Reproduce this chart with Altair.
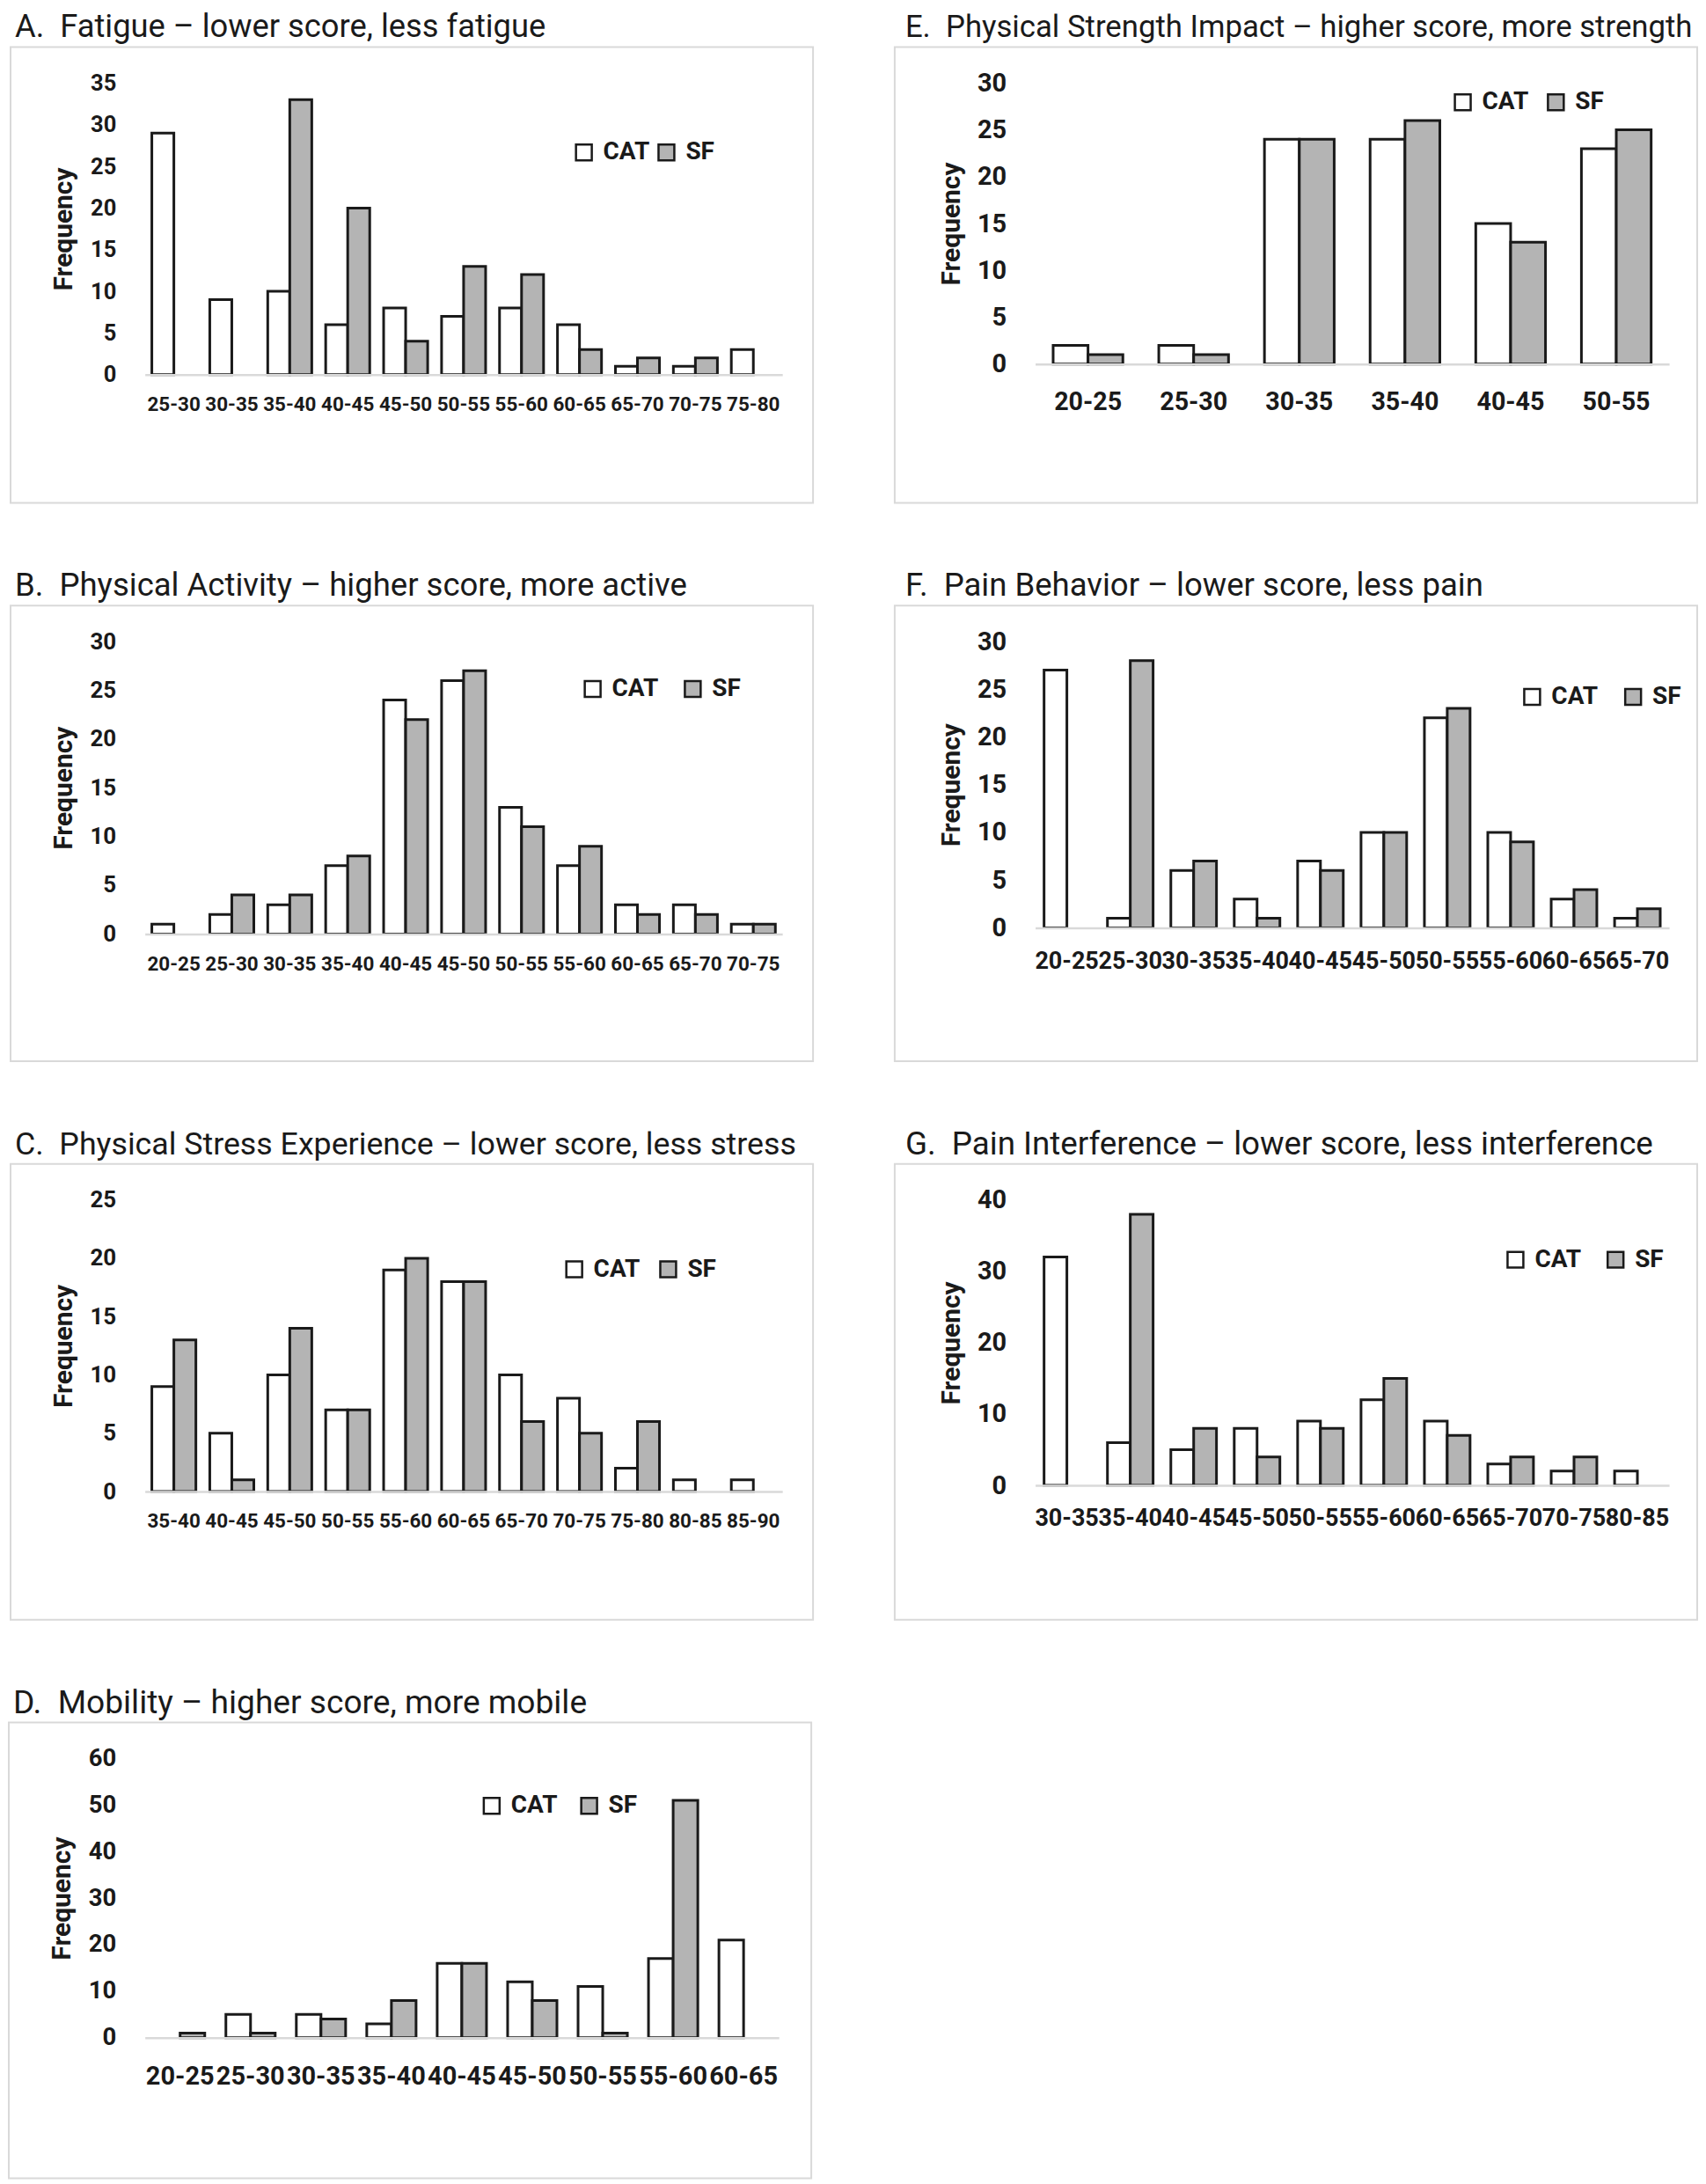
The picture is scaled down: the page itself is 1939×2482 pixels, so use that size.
import altair as alt
import pandas as pd

# ---------------- data ----------------
SERIES = ["CAT", "SF"]

A_bins = ["25-30", "30-35", "35-40", "40-45", "45-50", "50-55", "55-60", "60-65", "65-70", "70-75", "75-80"]
A_cat = [29, 9, 10, 6, 8, 7, 8, 6, 1, 1, 3]
A_sf = [0, 0, 33, 20, 4, 13, 12, 3, 2, 2, 0]

E_bins = ["20-25", "25-30", "30-35", "35-40", "40-45", "50-55"]
E_cat = [2, 2, 24, 24, 15, 23]
E_sf = [1, 1, 24, 26, 13, 25]

B_bins = ["20-25", "25-30", "30-35", "35-40", "40-45", "45-50", "50-55", "55-60", "60-65", "65-70", "70-75"]
B_cat = [1, 2, 3, 7, 24, 26, 13, 7, 3, 3, 1]
B_sf = [0, 4, 4, 8, 22, 27, 11, 9, 2, 2, 1]

F_bins = ["20-25", "25-30", "30-35", "35-40", "40-45", "45-50", "50-55", "55-60", "60-65", "65-70"]
F_cat = [27, 1, 6, 3, 7, 10, 22, 10, 3, 1]
F_sf = [0, 28, 7, 1, 6, 10, 23, 9, 4, 2]

C_bins = ["35-40", "40-45", "45-50", "50-55", "55-60", "60-65", "65-70", "70-75", "75-80", "80-85", "85-90"]
C_cat = [9, 5, 10, 7, 19, 18, 10, 8, 2, 1, 1]
C_sf = [13, 1, 14, 7, 20, 18, 6, 5, 6, 0, 0]

G_bins = ["30-35", "35-40", "40-45", "45-50", "50-55", "55-60", "60-65", "65-70", "70-75", "80-85"]
G_cat = [32, 6, 5, 8, 9, 12, 9, 3, 2, 2]
G_sf = [0, 38, 8, 4, 8, 15, 7, 4, 4, 0]

D_bins = ["20-25", "25-30", "30-35", "35-40", "40-45", "45-50", "50-55", "55-60", "60-65"]
D_cat = [0, 5, 5, 3, 16, 12, 11, 17, 21]
D_sf = [1, 1, 4, 8, 16, 8, 1, 51, 0]

TITLES = {
    "A": "A.\u00a0\u00a0Fatigue \u2013 lower score, less fatigue",
    "E": "E.\u00a0\u00a0Physical Strength Impact \u2013 higher score, more strength",
    "B": "B.\u00a0\u00a0Physical Activity \u2013 higher score, more active",
    "F": "F.\u00a0\u00a0Pain Behavior \u2013 lower score, less pain",
    "C": "C.\u00a0\u00a0Physical Stress Experience \u2013 lower score, less stress",
    "G": "G.\u00a0\u00a0Pain Interference \u2013 lower score, less interference",
    "D": "D.\u00a0\u00a0Mobility \u2013 higher score, more mobile",
}
Y_MAX = {"A": 35, "E": 30, "B": 30, "F": 30, "C": 25, "G": 40, "D": 60}
Y_STEP = {"A": 5, "E": 5, "B": 5, "F": 5, "C": 5, "G": 10, "D": 10}

DATA = {
    "A": (A_bins, A_cat, A_sf),
    "E": (E_bins, E_cat, E_sf),
    "B": (B_bins, B_cat, B_sf),
    "F": (F_bins, F_cat, F_sf),
    "C": (C_bins, C_cat, C_sf),
    "G": (G_bins, G_cat, G_sf),
    "D": (D_bins, D_cat, D_sf),
}

# ---------------- styling / layout ----------------
INK = "#1a1a1a"
SF_FILL = "#b4b4b4"
BOX = "#d9d9d9"
FONT = "Roboto"

PAGE = 8            # body margin of the page
COL_PITCH = 1005
ROW_PITCH = 634
BOX_W, BOX_H = 914, 519
TITLE_AREA = 42     # cell top -> box top
CELL_W = BOX_W + 2
CELL_H = TITLE_AREA + BOX_H + 1
PLOT_TOP_IN_BOX = 41

# per panel: row/col, plot left on the page, plot size, band padding,
# font sizes, x-label offset, legend (page x of first swatch, centre y in plot), gap
LAYOUT = {
    "A": dict(r=0, c=0, pl=162, pw=726, ph=332, pad=0.24, xfs=22.5, yfs=25.5, xlp=34, lxp=648, lcy=79, cp=5, tx=-92, tfs=36.4),
    "E": dict(r=0, c=1, pl=1174, pw=722, ph=320, pad=0.34, xfs=28.7, yfs=29, xlp=43, lxp=1647, lcy=22, cp=17, tx=-95, tfs=34.8),
    "B": dict(r=1, c=0, pl=162, pw=726, ph=333, pad=0.24, xfs=22.5, yfs=26, xlp=34, lxp=658, lcy=54, cp=25, tx=-92, tfs=36.6),
    "F": dict(r=1, c=1, pl=1174, pw=722, ph=326, pad=0.28, xfs=27, yfs=29, xlp=38, lxp=1726, lcy=63, cp=26, tx=-95, tfs=36.6),
    "C": dict(r=2, c=0, pl=162, pw=726, ph=332, pad=0.24, xfs=22.5, yfs=26, xlp=34, lxp=637, lcy=79, cp=18, tx=-92, tfs=35.8),
    "G": dict(r=2, c=1, pl=1174, pw=722, ph=325, pad=0.28, xfs=27, yfs=29, xlp=38, lxp=1707, lcy=68, cp=25, tx=-95, tfs=36.8),
    "D": dict(r=3, c=0, pl=164, pw=722, ph=318, pad=0.30, xfs=29, yfs=27.5, xlp=44, lxp=545, lcy=54, cp=22, tx=-94, tfs=37.2),
}
TITLE_INDENT = {0: 5, 1: 12}
LEG_FS = 28


def make_panel(key):
    bins, cat, sf = DATA[key]
    L = LAYOUT[key]
    rows = []
    for b, c, s in zip(bins, cat, sf):
        if c > 0:
            rows.append({"bin": b, "series": "CAT", "n": c})
        if s > 0:
            rows.append({"bin": b, "series": "SF", "n": s})
    df = pd.DataFrame(rows)

    ymax, ystep = Y_MAX[key], Y_STEP[key]
    box_left_page = PAGE + L["c"] * COL_PITCH + 1
    bx = box_left_page - L["pl"]          # box left relative to plot origin
    by = -PLOT_TOP_IN_BOX                 # box top relative to plot origin

    one = pd.DataFrame({"t": [TITLES[key]]})

    # white cell that fixes every panel's footprint in the grid
    cell = alt.Chart(one).mark_rect(fill="white").encode(
        x=alt.value(bx - 1), x2=alt.value(bx - 1 + CELL_W),
        y=alt.value(by - TITLE_AREA), y2=alt.value(by - TITLE_AREA + CELL_H),
    )
    box = alt.Chart(one).mark_rect(fill="white", fillOpacity=0, stroke=BOX, strokeWidth=2).encode(
        x=alt.value(bx), x2=alt.value(bx + BOX_W),
        y=alt.value(by), y2=alt.value(by + BOX_H),
    )
    title = alt.Chart(one).mark_text(
        align="left", baseline="alphabetic", font=FONT, fontSize=L["tfs"], color=INK
    ).encode(
        x=alt.value(bx + TITLE_INDENT[L["c"]]), y=alt.value(by - 11), text="t:N"
    )

    bars = alt.Chart(df).mark_bar(stroke=INK, strokeWidth=3).encode(
        x=alt.X(
            "bin:N", sort=bins,
            scale=alt.Scale(domain=bins, paddingInner=L["pad"], paddingOuter=L["pad"] / 2),
            axis=alt.Axis(
                title=None, labelAngle=0, labelFont=FONT, labelFontSize=L["xfs"],
                labelFontWeight="bold", labelColor=INK, labelPadding=L["xlp"],
                labelBaseline="middle", ticks=False, tickSize=0, domain=True,
                domainColor=BOX, domainWidth=2.5, grid=False, labelOverlap=False,
                zindex=1,
            ),
        ),
        xOffset=alt.XOffset(
            "series:N", sort=SERIES,
            scale=alt.Scale(domain=SERIES, paddingInner=0, paddingOuter=0),
        ),
        y=alt.Y(
            "n:Q",
            scale=alt.Scale(domain=[0, ymax], nice=False, zero=True),
            axis=alt.Axis(
                values=list(range(0, ymax + 1, ystep)), title="Frequency",
                titleFont=FONT, titleFontSize=30, titleFontWeight="bold", titleColor=INK,
                titleAngle=270, titleBaseline="middle", titleAlign="center",
                titleX=L["tx"], titleY=L["ph"] / 2,
                labelFont=FONT, labelFontSize=L["yfs"], labelFontWeight="bold",
                labelColor=INK, labelPadding=33, ticks=False, tickSize=0,
                domain=False, grid=False, zindex=1,
            ),
        ),
        fill=alt.Fill(
            "series:N",
            scale=alt.Scale(domain=SERIES, range=["#ffffff", SF_FILL]),
            legend=alt.Legend(
                orient="none", legendX=L["lxp"] - L["pl"], legendY=L["lcy"] - LEG_FS / 2,
                direction="horizontal", title=None, symbolType="square", symbolSize=324,
                symbolStrokeColor=INK, symbolStrokeWidth=2.5,
                labelFont=FONT, labelFontSize=LEG_FS, labelFontWeight="bold",
                labelColor=INK, labelOffset=8, columnPadding=L["cp"], padding=0,
            ),
        ),
    )

    return alt.layer(cell, box, bars, title).properties(width=L["pw"], height=L["ph"])


panels = [make_panel(k) for k in ["A", "E", "B", "F", "C", "G", "D"]]

chart = (
    alt.concat(
        *panels, columns=2, align="none",
        spacing={"row": ROW_PITCH - CELL_H, "column": COL_PITCH - CELL_W},
    )
    .resolve_scale(fill="independent", xOffset="independent", x="independent", y="independent")
    .resolve_legend(fill="independent")
    .configure_view(stroke="transparent")
    .properties(padding=0, background="white")
)

chart.save("out.html", embed_options={"renderer": "svg", "actions": False})
